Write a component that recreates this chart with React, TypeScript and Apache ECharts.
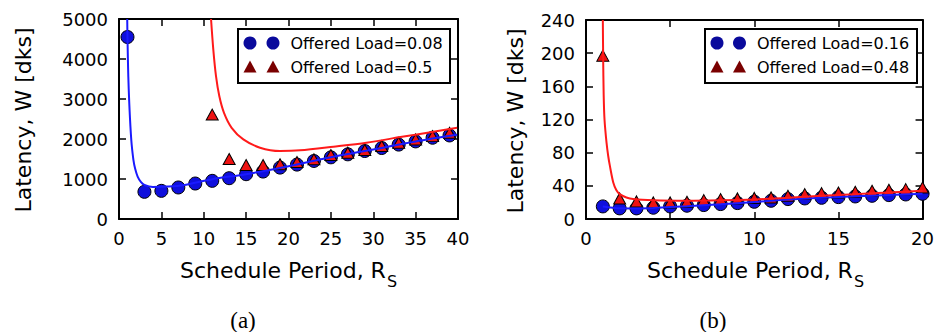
import React, { useEffect, useRef } from "react";
import * as echarts from "echarts";

const FONT = "'DejaVu Sans', 'Bitstream Vera Sans', sans-serif";
const SERIF = "'Liberation Serif', 'Times New Roman', serif";

// ---------- Panel (a) ----------
const aXTicks = [0, 5, 10, 15, 20, 25, 30, 35, 40];
const aYTicks = [0, 1000, 2000, 3000, 4000, 5000];
const aLabels = ["Offered Load=0.08", "Offered Load=0.5"];
const aBlueX = [1, 3, 5, 7, 9, 11, 13, 15, 17, 19, 21, 23, 25, 27, 29, 31, 33, 35, 37, 39];
const aBlueW = [4550, 680, 704, 788, 887, 954, 1020, 1120, 1186, 1285, 1360, 1451, 1542, 1617, 1700, 1775, 1860, 1940, 2032, 2089];
const aRedX = [11, 13, 15, 17, 19, 21, 23, 25, 27, 29, 31, 33, 35, 37, 39];
const aRedW = [2610, 1500, 1350, 1350, 1368, 1426, 1492, 1600, 1658, 1725, 1824, 1907, 1990, 2072, 2156];
const aBlueCurveX = [0.97, 1.0, 1.05, 1.1, 1.2, 1.3, 1.4, 1.5, 1.7, 1.9, 2.2, 2.6, 3, 4, 5.6, 7.6, 11, 15, 20, 25, 30, 35, 39.9];
const aBlueCurveW = [5000, 4550, 4000, 3550, 2950, 2500, 2130, 1850, 1480, 1260, 1060, 920, 850, 800, 810, 846, 995, 1120, 1320, 1542, 1740, 1940, 2105];
const aRedCurveX = [10.86, 11.13, 11.45, 11.84, 12.39, 13.29, 14.67, 16.64, 19.0, 21.36, 25.3, 29.2, 33.2, 37.1, 39.9];
const aRedCurveW = [5000, 4229, 3565, 3067, 2653, 2280, 1990, 1783, 1700, 1716, 1807, 1907, 2048, 2181, 2280];

// ---------- Panel (b) ----------
const bXTicks = [0, 5, 10, 15, 20];
const bYTicks = [0, 40, 80, 120, 160, 200, 240];
const bLabels = ["Offered Load=0.16", "Offered Load=0.48"];
const bBlueX = [1, 2, 3, 4, 5, 6, 7, 8, 9, 10, 11, 12, 13, 14, 15, 16, 17, 18, 19, 20];
const bBlueW = [15.2, 12.8, 12.8, 13.6, 15.2, 16, 16.8, 18, 19.2, 20.8, 22, 24, 24.8, 25.6, 26.4, 27.2, 28, 28.8, 29.6, 30.4];
const bRedX = [1, 2, 3, 4, 5, 6, 7, 8, 9, 10, 11, 12, 13, 14, 15, 16, 17, 18, 19, 20];
const bRedW = [197, 24.8, 21.2, 20, 20, 20.8, 22.8, 24, 24.8, 25.4, 26, 28, 30, 31.2, 32, 32.8, 34, 35.2, 36, 38];
const bBlueCurveX = [1, 2, 3, 4, 6, 8, 10, 12, 14, 16, 18, 20];
const bBlueCurveW = [15.2, 13, 12.8, 13.4, 15.5, 17.8, 20.5, 23.5, 25.6, 27.3, 29, 30.5];
const bRedCurveX = [1.0, 1.02, 1.05, 1.1, 1.22, 1.32, 1.42, 1.62, 1.8, 2.0, 2.4, 2.8, 4, 6, 8, 10, 12, 14, 16, 18, 20];
const bRedCurveW = [240, 195, 150, 120, 92, 76, 64, 44, 35, 30, 26, 24, 22.5, 22, 22.5, 23.5, 25.5, 28, 30, 32, 34];

const yTitle = "Latency, W [dks]";
const xTitleMain = "Schedule Period, R";
const xTitleSub = "S";
const panelTags = ["(a)", "(b)"];

const BLUE = "#0f0fdc";
const RED = "#ee1212";
const BLUE_LINE = "#1a1aff";
const RED_LINE = "#ff1a1a";
const LEG_BLUE = "#0a0a9c";
const LEG_RED = "#7a0000";

const zip = (xs: number[], ys: number[]) => xs.map((x, i) => [x, ys[i]]);

function measure(text: string, font: string): number {
  const c = document.createElement("canvas").getContext("2d");
  if (!c) return text.length * 10;
  c.font = font;
  return c.measureText(text).width;
}

function axisPair(gridIndex: number, ticks: number[], isX: boolean) {
  const min = ticks[0];
  const max = ticks[ticks.length - 1];
  const interval = ticks[1] - ticks[0];
  const base = {
    gridIndex,
    type: "value",
    min,
    max,
    interval,
    splitLine: { show: false },
    axisLine: { show: true, onZero: false, lineStyle: { color: "#000", width: 2 } },
    axisTick: { show: true, inside: true, length: 7, lineStyle: { color: "#000", width: 1.5 } },
  };
  return [
    {
      ...base,
      position: isX ? "bottom" : "left",
      axisLabel: {
        show: true,
        color: "#000",
        fontFamily: FONT,
        fontSize: 18,
        margin: isX ? 10 : 11,
        showMinLabel: true,
        showMaxLabel: true,
        formatter: (v: number) => String(v),
      },
    },
    {
      ...base,
      position: isX ? "top" : "right",
      axisLabel: { show: false },
    },
  ];
}

function legendGraphics(boxX: number, m1: number, m2: number, textX: number, labels: string[]) {
  const rowY = [43, 67];
  const els: any[] = [
    {
      type: "rect",
      z: 100,
      shape: { x: boxX, y: 29, width: 212, height: 54 },
      style: { fill: "#fff", stroke: "#000", lineWidth: 2 },
    },
  ];
  [m1, m2].forEach((cx) => {
    els.push({ type: "circle", z: 101, shape: { cx, cy: rowY[0], r: 6.5 }, style: { fill: LEG_BLUE } });
    els.push({
      type: "polygon",
      z: 101,
      shape: { points: [[cx - 6.5, rowY[1] + 5.5], [cx + 6.5, rowY[1] + 5.5], [cx, rowY[1] - 6.5]] },
      style: { fill: LEG_RED },
    });
  });
  labels.forEach((t, i) => {
    els.push({
      type: "text",
      z: 101,
      x: textX,
      y: rowY[i],
      style: { text: t, fill: "#000", font: `16px ${FONT}`, align: "left", verticalAlign: "middle" },
    });
  });
  return els;
}

function xTitleGraphics(cx: number) {
  const mainFont = `22px ${FONT}`;
  const subFont = `16px ${FONT}`;
  const w1 = measure(xTitleMain, mainFont);
  const w2 = measure(xTitleSub, subFont);
  const start = cx - (w1 + w2) / 2;
  return [
    {
      type: "text",
      x: start,
      y: 270,
      style: { text: xTitleMain, fill: "#000", font: mainFont, align: "left", verticalAlign: "middle" },
    },
    {
      type: "text",
      x: start + w1 + 1,
      y: 281,
      style: { text: xTitleSub, fill: "#000", font: subFont, align: "left", verticalAlign: "middle" },
    },
  ];
}

export default function App() {
  const ref = useRef<HTMLDivElement>(null);

  useEffect(() => {
    if (!ref.current) return;
    const chart = echarts.init(ref.current, undefined, { renderer: "svg" });

    const [ax0, ax1] = axisPair(0, aXTicks, true);
    const [bx0, bx1] = axisPair(1, bXTicks, true);
    const [ay0, ay1] = axisPair(0, aYTicks, false);
    const [by0, by1] = axisPair(1, bYTicks, false);

    const lineSeries = (name: string, data: number[][], color: string, xi: number, yi: number) => ({
      name,
      type: "line",
      xAxisIndex: xi,
      yAxisIndex: yi,
      data,
      showSymbol: false,
      symbol: "none",
      smooth: 0.3,
      clip: true,
      lineStyle: { color, width: 2 },
      z: 5,
    });
    const circleSeries = (name: string, data: number[][], xi: number, yi: number) => ({
      name,
      type: "scatter",
      xAxisIndex: xi,
      yAxisIndex: yi,
      data,
      symbol: "circle",
      symbolSize: 13,
      itemStyle: { color: BLUE, borderColor: "#000", borderWidth: 1, opacity: 1 },
      z: 3,
    });
    const triSeries = (name: string, data: number[][], xi: number, yi: number) => ({
      name,
      type: "scatter",
      xAxisIndex: xi,
      yAxisIndex: yi,
      data,
      symbol: "triangle",
      symbolSize: [12, 11],
      itemStyle: { color: RED, borderColor: "#000", borderWidth: 1, opacity: 1 },
      z: 4,
    });

    const option: any = {
      animation: false,
      backgroundColor: "#fff",
      textStyle: { fontFamily: FONT },
      grid: [
        { left: 119, top: 19, width: 339, height: 200 },
        { left: 586, top: 20, width: 338, height: 199 },
      ],
      xAxis: [ax0, ax1, bx0, bx1],
      yAxis: [ay0, ay1, by0, by1],
      series: [
        circleSeries(aLabels[0], zip(aBlueX, aBlueW), 0, 0),
        triSeries(aLabels[1], zip(aRedX, aRedW), 0, 0),
        lineSeries(aLabels[0] + " model", zip(aBlueCurveX, aBlueCurveW), BLUE_LINE, 0, 0),
        lineSeries(aLabels[1] + " model", zip(aRedCurveX, aRedCurveW), RED_LINE, 0, 0),
        circleSeries(bLabels[0], zip(bBlueX, bBlueW), 2, 2),
        triSeries(bLabels[1], zip(bRedX, bRedW), 2, 2),
        lineSeries(bLabels[0] + " model", zip(bBlueCurveX, bBlueCurveW), BLUE_LINE, 2, 2),
        lineSeries(bLabels[1] + " model", zip(bRedCurveX, bRedCurveW), RED_LINE, 2, 2),
      ],
      graphic: [
        {
          type: "text",
          x: 23,
          y: 120,
          rotation: Math.PI / 2,
          style: { text: yTitle, fill: "#000", font: `22px ${FONT}`, align: "center", verticalAlign: "middle" },
        },
        {
          type: "text",
          x: 515,
          y: 121,
          rotation: Math.PI / 2,
          style: { text: yTitle, fill: "#000", font: `22px ${FONT}`, align: "center", verticalAlign: "middle" },
        },
        ...xTitleGraphics(288),
        ...xTitleGraphics(755),
        {
          type: "text",
          x: 243,
          y: 320,
          style: { text: panelTags[0], fill: "#000", font: `23px ${SERIF}`, align: "center", verticalAlign: "middle" },
        },
        {
          type: "text",
          x: 713,
          y: 320,
          style: { text: panelTags[1], fill: "#000", font: `23px ${SERIF}`, align: "center", verticalAlign: "middle" },
        },
        ...legendGraphics(238, 250, 273, 290.5, aLabels),
        ...legendGraphics(705, 717, 739.5, 757, bLabels),
      ],
    };

    chart.setOption(option);
    return () => {
      chart.dispose();
    };
  }, []);

  return (
    <div
      ref={ref}
      style={{ position: "absolute", left: 0, top: 0, width: 937, height: 332, background: "#fff" }}
    />
  );
}
